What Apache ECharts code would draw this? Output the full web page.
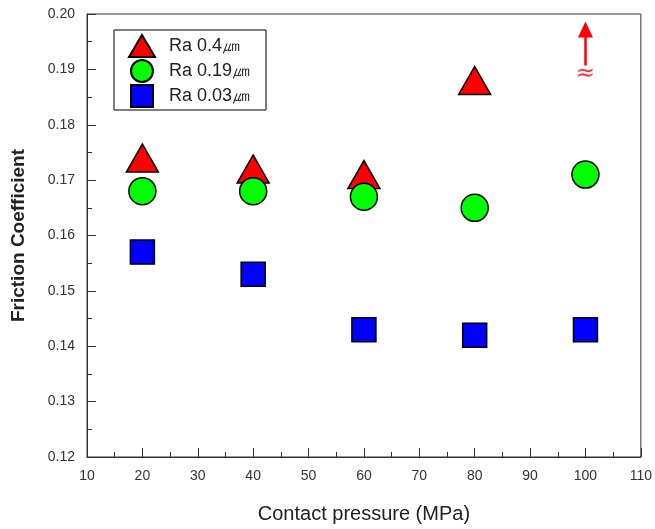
<!DOCTYPE html>
<html>
<head>
<meta charset="utf-8">
<script src="https://cdn.jsdelivr.net/npm/echarts@6/dist/echarts.min.js"></script>
<style>
  html, body { margin: 0; padding: 0; background: #fff; }
  #chart { width: 655px; height: 529px; }
</style>
</head>
<body>
<div id="chart"></div>
<script>
// Contact pressure (MPa)
const pressure = [20, 40, 60, 80, 100];
// Friction coefficient per surface roughness
const ra04 = [0.174, 0.172, 0.171, 0.188, null];
const ra019 = [0.168, 0.168, 0.167, 0.165, 0.171];
const ra003 = [0.157, 0.153, 0.143, 0.142, 0.143];
const seriesNames = ['Ra 0.4㎛', 'Ra 0.19㎛', 'Ra 0.03㎛'];
// Off-scale marker for Ra 0.4 at 100 MPa: arrow from/to, and break sign position
const offScaleX = 100;
const offScaleArrow = [0.1907, 0.1972];
const breakSignY = 0.1892;

const pairs = (vals) => pressure.map((p, i) => [p, vals[i]]).filter(d => d[1] !== null);

const font = 'Liberation Sans, Arial, sans-serif';
const chart = echarts.init(document.getElementById('chart'));

chart.setOption({
  animation: false,
  backgroundColor: '#fff',
  grid: {
    left: 87, top: 14, right: 14, bottom: 72,
    show: true, borderColor: '#333', borderWidth: 1, backgroundColor: 'transparent'
  },
  legend: {
    data: [
      { name: seriesNames[0], icon: 'path://M13,0L26,22L0,22Z' },
      { name: seriesNames[1], icon: 'circle' },
      { name: seriesNames[2], icon: 'path://M0,0L20,0L20,20L0,20Z' }
    ],
    orient: 'vertical',
    left: 114, top: 30,
    padding: [4, 16, 2, 14],
    itemGap: 1,
    itemWidth: 44, itemHeight: 22,
    symbolKeepAspect: true,
    borderColor: '#000', borderWidth: 1,
    textStyle: { fontFamily: font, fontSize: 18, color: '#222', lineHeight: 22 }
  },
  xAxis: {
    type: 'value',
    min: 10, max: 110, interval: 10,
    name: 'Contact pressure (MPa)',
    nameLocation: 'middle', nameGap: 47,
    nameTextStyle: { fontFamily: font, fontSize: 20, color: '#222' },
    axisLine: { lineStyle: { color: '#333', width: 1 } },
    axisTick: { inside: true, length: 9, lineStyle: { color: '#333' } },
    minorTick: { show: true, splitNumber: 2, length: 5, lineStyle: { color: '#333' } },
    axisLabel: { fontFamily: font, fontSize: 14, color: '#333', margin: 12 },
    splitLine: { show: false }
  },
  yAxis: {
    type: 'value',
    min: 0.12, max: 0.20, interval: 0.01,
    name: 'Friction Coefficient',
    nameLocation: 'middle', nameGap: 59,
    nameTextStyle: { fontFamily: font, fontSize: 19, fontWeight: 'bold', color: '#222' },
    axisLine: { show: true, lineStyle: { color: '#333', width: 1 } },
    axisTick: { inside: true, length: 9, lineStyle: { color: '#333' } },
    minorTick: { show: true, splitNumber: 2, length: 5, lineStyle: { color: '#333' } },
    axisLabel: { fontFamily: font, fontSize: 14, color: '#333', margin: 12,
                 formatter: v => v.toFixed(2) },
    splitLine: { show: false }
  },
  series: [
    {
      name: seriesNames[0], type: 'scatter',
      symbol: 'triangle', symbolSize: [32, 28],
      itemStyle: { color: '#ff0000', borderColor: '#000', borderWidth: 1.5, opacity: 1 },
      data: pairs(ra04), z: 3
    },
    {
      name: seriesNames[1], type: 'scatter',
      symbol: 'circle', symbolSize: 27,
      itemStyle: { color: '#00ff00', borderColor: '#000', borderWidth: 1.5, opacity: 1 },
      data: pairs(ra019), z: 4
    },
    {
      name: seriesNames[2], type: 'scatter',
      symbol: 'rect', symbolSize: 24,
      itemStyle: { color: '#0000ff', borderColor: '#000', borderWidth: 1.5, opacity: 1 },
      data: pairs(ra003), z: 4
    },
    {
      name: 'offscale', type: 'scatter',
      symbolSize: 0,
      data: [[offScaleX, breakSignY]],
      label: {
        show: true, position: 'inside', formatter: '≈',
        fontFamily: 'DejaVu Sans', fontSize: 23, color: '#ff0000'
      },
      markLine: {
        silent: true,
        symbol: ['none', 'triangle'],
        symbolSize: [15, 16],
        lineStyle: { color: '#ff0000', width: 2.5, type: 'solid' },
        label: { show: false },
        data: [[
          { coord: [offScaleX, offScaleArrow[0]] },
          { coord: [offScaleX, offScaleArrow[1]] }
        ]]
      }
    }
  ]
});
</script>
</body>
</html>
